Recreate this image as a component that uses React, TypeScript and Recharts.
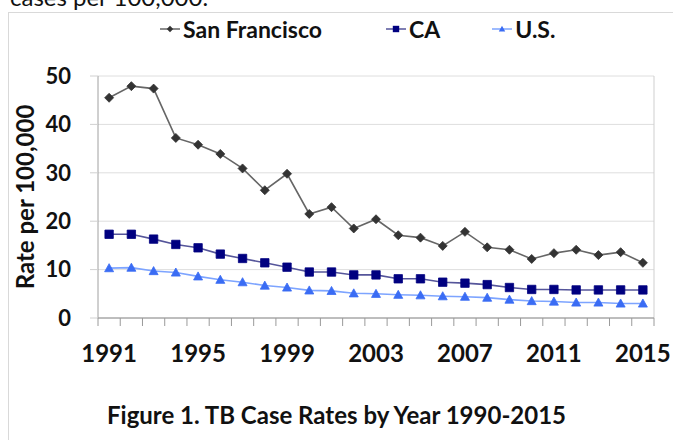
import React from 'react';
import { CartesianGrid, Line, LineChart, ReferenceLine, XAxis, YAxis } from 'recharts';

const years = [
  1991, 1992, 1993, 1994, 1995, 1996, 1997, 1998, 1999, 2000, 2001, 2002, 2003,
  2004, 2005, 2006, 2007, 2008, 2009, 2010, 2011, 2012, 2013, 2014, 2015
];
const sanFrancisco = [
  45.5, 47.9, 47.4, 37.2, 35.8, 33.9, 30.9, 26.4, 29.8, 21.5, 22.9, 18.5, 20.4,
  17.1, 16.6, 14.9, 17.8, 14.6, 14.1, 12.2, 13.4, 14.1, 13.0, 13.6, 11.4
];
const california = [
  17.3, 17.3, 16.3, 15.2, 14.5, 13.2, 12.3, 11.4, 10.5, 9.5, 9.5, 8.9, 8.9,
  8.1, 8.1, 7.4, 7.2, 6.9, 6.3, 5.9, 5.9, 5.8, 5.8, 5.8, 5.8
];
const unitedStates = [
  10.3, 10.4, 9.7, 9.4, 8.6, 7.9, 7.4, 6.7, 6.3, 5.7, 5.6, 5.1, 5.0,
  4.8, 4.7, 4.5, 4.4, 4.2, 3.8, 3.5, 3.4, 3.2, 3.2, 3.0, 3.0
];
const yearLabels = [1991, 1995, 1999, 2003, 2007, 2011, 2015];
const rateTicks = [0, 10, 20, 30, 40, 50];

const FONT = 'Lato, "Open Sans", sans-serif';

type Shape = 'diamond' | 'square' | 'triangle';
type SeriesConfig = { key: string; label: string; line: string; marker: string; shape: Shape; gap: number };

const series: SeriesConfig[] = [
  { key: 'sf', label: 'San Francisco', line: '#666666', marker: '#333333', shape: 'diamond', gap: 0 },
  { key: 'ca', label: 'CA', line: '#55559a', marker: '#000080', shape: 'square', gap: 64 },
  { key: 'us', label: 'U.S.', line: '#7da4ff', marker: '#3a6cf4', shape: 'triangle', gap: 52 }
];

const data = years.map((year, i) => ({
  year,
  sf: sanFrancisco[i],
  ca: california[i],
  us: unitedStates[i]
}));

// tick marks sit between the years, like a category axis
const yearEdges = [...years.map((y) => y - 0.5), years[years.length - 1] + 0.5];
const xTicks = [...yearEdges, ...yearLabels].sort((a, b) => a - b);

function markerPath(shape: Shape, cx: number, cy: number, s: number) {
  if (shape === 'diamond') return `M${cx},${cy - s}L${cx + s},${cy}L${cx},${cy + s}L${cx - s},${cy}Z`;
  if (shape === 'square') return `M${cx - s},${cy - s}H${cx + s}V${cy + s}H${cx - s}Z`;
  return `M${cx},${cy - s}L${cx + s},${cy + s * 0.8}H${cx - s}Z`;
}

function makeDot(cfg: SeriesConfig, size: number) {
  return (props: any) => {
    const { cx, cy, index } = props;
    if (cx == null || cy == null) return <g key={`${cfg.key}-${index}`} />;
    return (
      <path
        key={`${cfg.key}-${index}`}
        d={markerPath(cfg.shape, cx, cy, size)}
        fill={cfg.marker}
        stroke={cfg.marker}
        strokeWidth={0.8}
      />
    );
  };
}

function YearTick(props: any) {
  const { x, y, payload } = props;
  const v = payload.value;
  if (Number.isInteger(v)) {
    return (
      <text x={x} y={y + 44} textAnchor="middle" fontFamily={FONT} fontSize={24} fontWeight={700} fill="#111">
        {v}
      </text>
    );
  }
  return <line x1={x} x2={x} y1={y} y2={y + 8} stroke="#9a9a9a" />;
}

function LegendIcon({ cfg }: { cfg: SeriesConfig }) {
  return (
    <svg width={20} height={12} style={{ display: 'block' }}>
      <line x1={0} x2={20} y1={6} y2={6} stroke={cfg.line} strokeWidth={1.5} />
      <path d={markerPath(cfg.shape, 10, 6, 3.2)} fill={cfg.marker} />
    </svg>
  );
}

export default function App() {
  return (
    <div
      style={{
        position: 'fixed',
        left: 0,
        top: 0,
        width: 673,
        height: 440,
        overflow: 'hidden',
        background: '#fff',
        fontFamily: FONT
      }}
    >
      <div style={{ position: 'absolute', left: 10, top: -15, fontSize: 24, lineHeight: '24px', color: '#111' }}>
        cases per 100,000.
      </div>
      <div style={{ position: 'absolute', left: 8, top: 12, width: 720, height: 500, border: '1px solid #d9d9d9' }} />

      <div style={{ position: 'absolute', left: 160, top: 15, display: 'flex', alignItems: 'center' }}>
        {series.map((cfg) => (
          <div key={cfg.key} style={{ display: 'flex', alignItems: 'center', marginLeft: cfg.gap }}>
            <LegendIcon cfg={cfg} />
            <span style={{ marginLeft: 3, fontSize: 23, fontWeight: 700, color: '#111', lineHeight: '28px' }}>
              {cfg.label}
            </span>
          </div>
        ))}
      </div>

      <div style={{ position: 'absolute', left: 0, top: 0 }}>
        <LineChart width={673} height={440} data={data} margin={{ top: 76, right: 19, bottom: 72, left: 0 }}>
          <CartesianGrid vertical={false} stroke="#dedede" />
          <XAxis
            dataKey="year"
            type="number"
            domain={[1990.5, 2015.5]}
            ticks={xTicks}
            interval={0}
            tick={<YearTick />}
            tickLine={false}
            tickSize={0}
            tickMargin={0}
            height={50}
            axisLine={{ stroke: '#8c8c8c' }}
          />
          <YAxis
            type="number"
            domain={[0, 50]}
            ticks={rateTicks}
            width={98}
            tickSize={8}
            tickMargin={19}
            tickLine={{ stroke: '#d0d0d0' }}
            axisLine={{ stroke: '#a0a0a0' }}
            tick={{ fontFamily: FONT, fontSize: 22, fontWeight: 700, fill: '#111' }}
            label={{
              content: () => (
                <text
                  transform="translate(34,197) rotate(-90)"
                  textAnchor="middle"
                  fontFamily={FONT}
                  fontSize={24}
                  fontWeight={700}
                  fill="#111"
                >
                  Rate per 100,000
                </text>
              )
            }}
          />
          <ReferenceLine x={2015.5} stroke="#cfcfcf" />
          {series.map((cfg) => (
            <Line
              key={cfg.key}
              dataKey={cfg.key}
              name={cfg.label}
              type="linear"
              stroke={cfg.line}
              strokeWidth={1.6}
              dot={makeDot(cfg, cfg.shape === 'square' ? 4.2 : 4.5)}
              activeDot={false}
              isAnimationActive={false}
            />
          ))}
        </LineChart>
      </div>

      <div
        style={{
          position: 'absolute',
          left: 0,
          width: 673,
          top: 400,
          textAlign: 'center',
          fontSize: 24,
          fontWeight: 700,
          color: '#111'
        }}
      >
        Figure 1. TB Case Rates by Year 1990-2015
      </div>
    </div>
  );
}
